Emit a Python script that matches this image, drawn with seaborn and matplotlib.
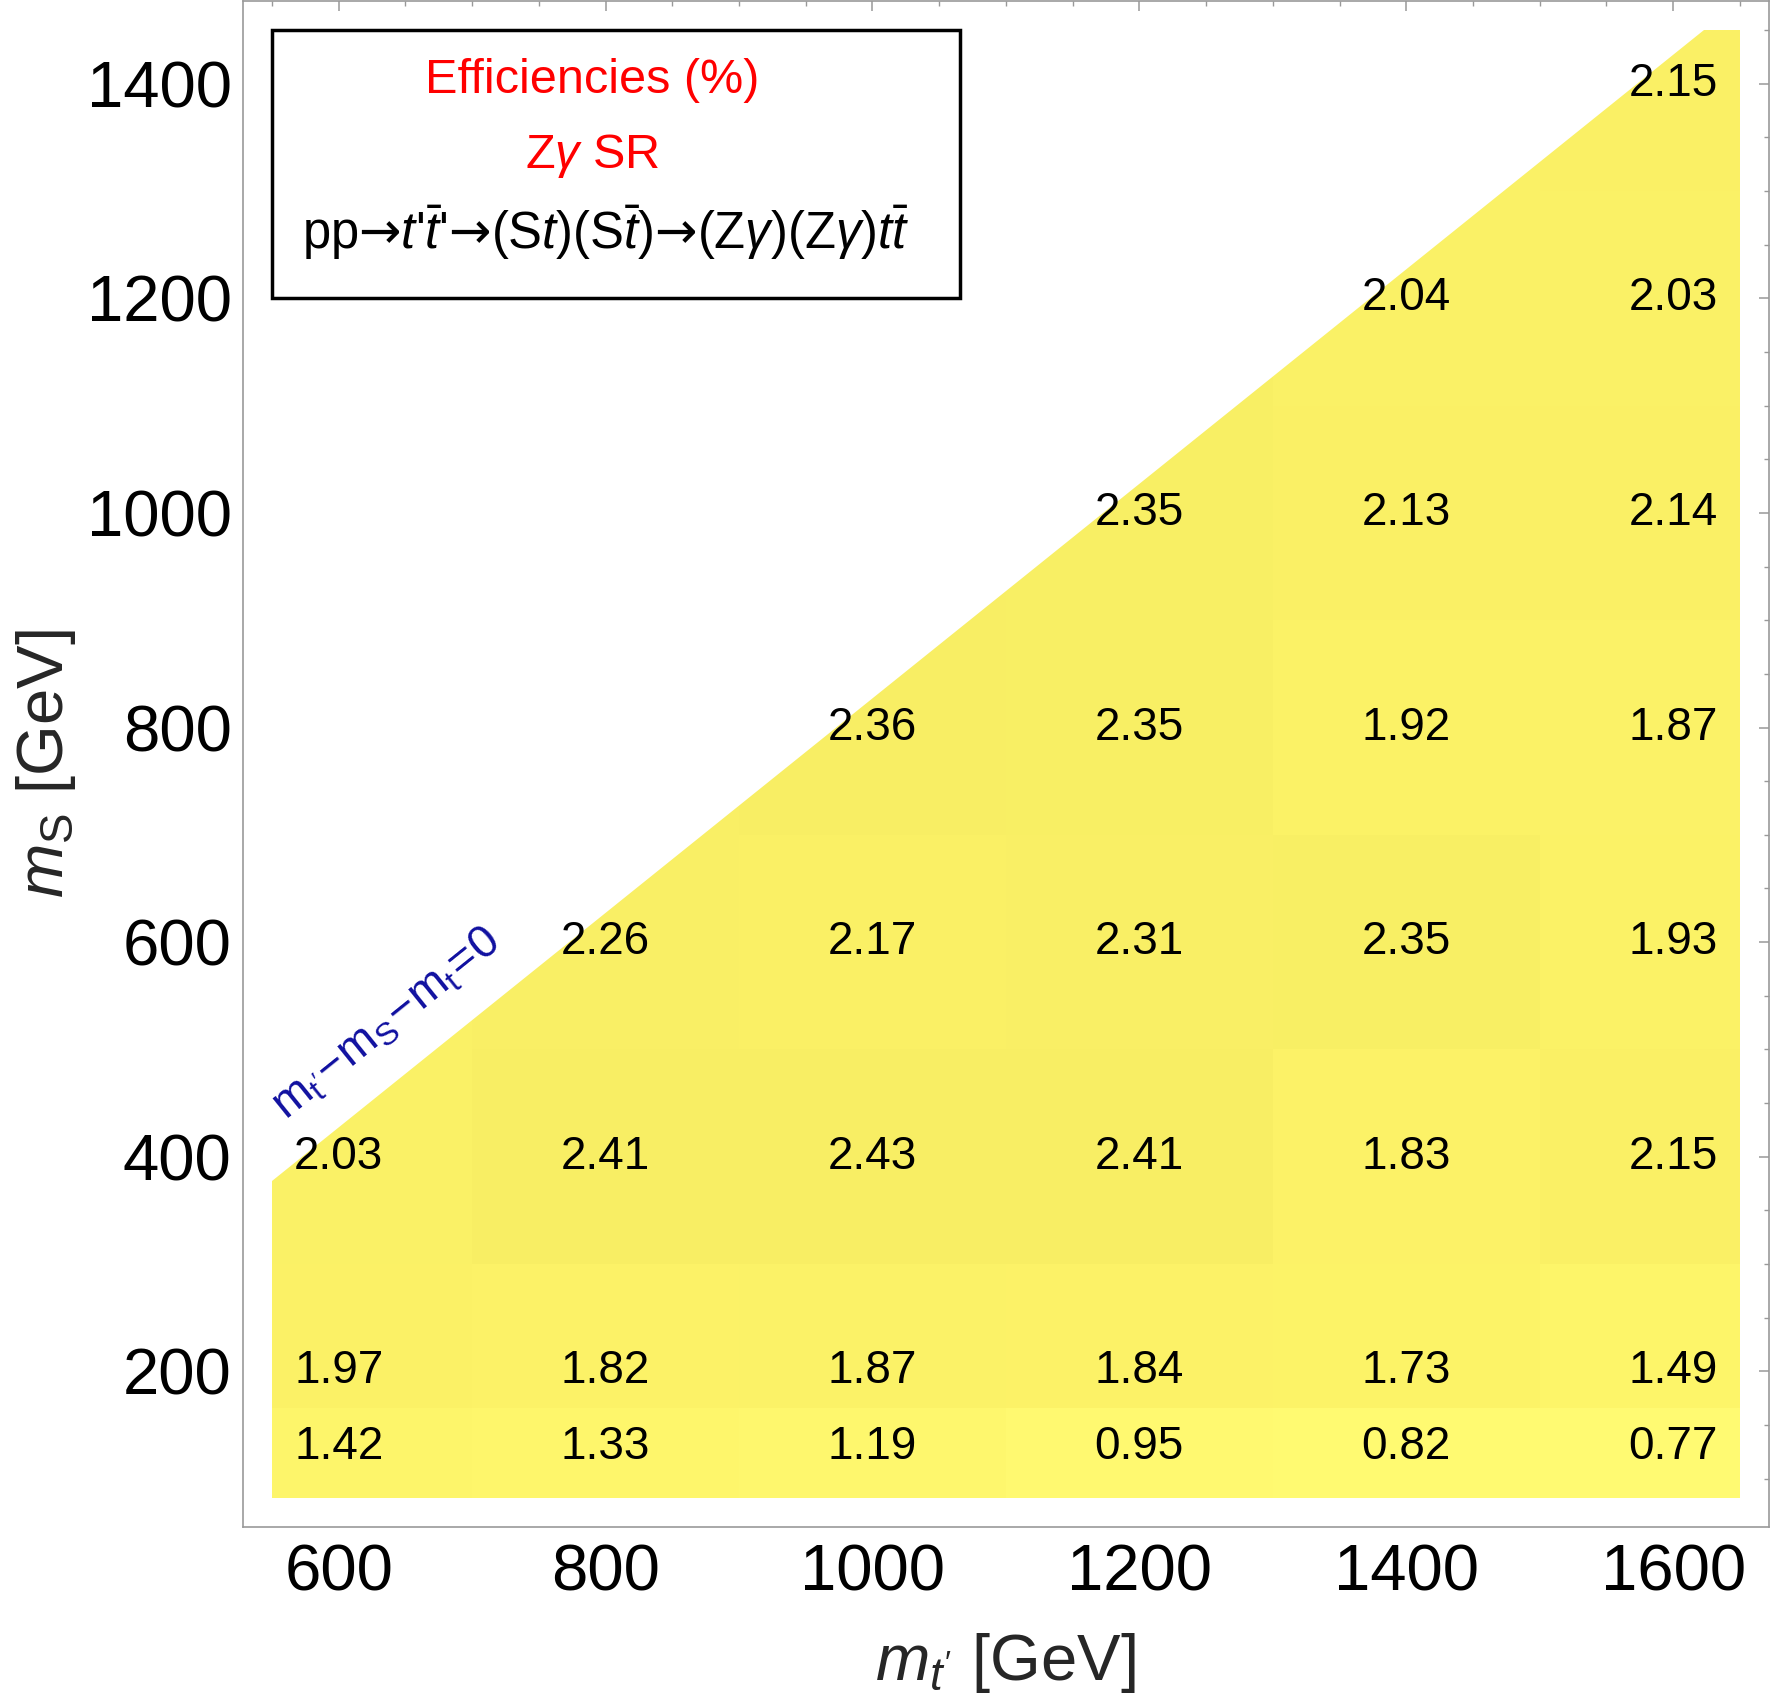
import matplotlib.pyplot as plt
import numpy as np
import pandas as pd
import seaborn as sns
from matplotlib.patches import Polygon, Rectangle
from matplotlib.ticker import MultipleLocator

# efficiencies (%) in the Z-gamma signal region, one list per m_S row
m_tprime = [600, 800, 1000, 1200, 1400, 1600]
m_s = [130, 200, 400, 600, 800, 1000, 1200, 1400]
eff_130 = [1.42, 1.33, 1.19, 0.95, 0.82, 0.77]
eff_200 = [1.97, 1.82, 1.87, 1.84, 1.73, 1.49]
eff_400 = [2.03, 2.41, 2.43, 2.41, 1.83, 2.15]
eff_600 = [np.nan, 2.26, 2.17, 2.31, 2.35, 1.93]
eff_800 = [np.nan, np.nan, 2.36, 2.35, 1.92, 1.87]
eff_1000 = [np.nan, np.nan, np.nan, 2.35, 2.13, 2.14]
eff_1200 = [np.nan, np.nan, np.nan, np.nan, 2.04, 2.03]
eff_1400 = [np.nan, np.nan, np.nan, np.nan, np.nan, 2.15]

m_top = 173

# cell edges of the piecewise-constant density plot
x_edges = [550, 700, 900, 1100, 1300, 1500, 1650]
y_edges = [82, 166, 300, 500, 700, 900, 1100, 1300, 1450]

grid = pd.DataFrame(
    [eff_130, eff_200, eff_400, eff_600, eff_800, eff_1000, eff_1200, eff_1400],
    index=m_s, columns=m_tprime,
)
fill = grid.ffill(axis=0)

sns.set_theme(style="white")
plt.rcParams["font.family"] = ["Liberation Sans", "DejaVu Sans"]
plt.rcParams["mathtext.fontset"] = "custom"
plt.rcParams["mathtext.rm"] = "Liberation Sans"
plt.rcParams["mathtext.it"] = "Liberation Sans:italic"
plt.rcParams["mathtext.bf"] = "Liberation Sans:bold"
plt.rcParams["mathtext.sf"] = "DejaVu Sans"
plt.rcParams["mathtext.fallback"] = "stixsans"

cmap = sns.blend_palette(["#fffa72", "#fdf468", "#f8ee64"], as_cmap=True)

fig = plt.figure(figsize=(17.71, 16.98), dpi=100)
ax = fig.add_axes([0.137, 0.1007, 0.862, 0.8987])

mesh = ax.pcolormesh(x_edges, y_edges, fill.values, cmap=cmap,
                     vmin=0.77, vmax=2.43, shading="flat", antialiased=False)
region = Polygon([(550, 82), (1650, 82), (1650, 1450),
                  (1450 + m_top, 1450), (550, 550 - m_top)],
                 closed=True, transform=ax.transData)
mesh.set_clip_path(region)

for ms in m_s:
    for mt in m_tprime:
        v = grid.loc[ms, mt]
        if not np.isnan(v):
            ax.text(mt, ms, f"{v:.2f}", ha="center", va="center",
                    fontsize=33, color="black", zorder=4)

ax.text(636, 524, r"$\mathregular{m_{t'}\!-\!m_S\!-\!m_t\!=\!0}$",
        color="#1010a0", fontsize=33, ha="center", va="center",
        rotation=45, transform_rotates_text=True, rotation_mode="anchor")

ax.add_patch(Rectangle((0.019, 0.8054), 0.4506, 0.1753, transform=ax.transAxes,
                       facecolor="white", edgecolor="black", lw=2.5, zorder=5))
ax.text(0.2292, 0.9478, "Efficiencies (%)", color="red", fontsize=35,
        ha="center", va="center", transform=ax.transAxes, zorder=6)
ax.text(0.2292, 0.8985, r"Z$\gamma$ SR", color="red", fontsize=35,
        ha="center", va="center", transform=ax.transAxes, zorder=6)
ax.text(0.2377, 0.848,
        r"pp$\mathsf{→}$$t$'$\bar{t}$'$\mathsf{→}$(S$t$)(S$\bar{t}$)"
        r"$\mathsf{→}$(Z$\gamma$)(Z$\gamma$)$t\bar{t}$",
        color="black", fontsize=36.5, ha="center", va="center",
        transform=ax.transAxes, zorder=6)

ax.set_xlim(528, 1672)
ax.set_ylim(55, 1477)
ax.xaxis.set_major_locator(MultipleLocator(200))
ax.xaxis.set_minor_locator(MultipleLocator(50))
ax.yaxis.set_major_locator(MultipleLocator(200))
ax.yaxis.set_minor_locator(MultipleLocator(50))
ax.tick_params(which="both", direction="in", top=True, right=True,
               color="#999999", labelsize=47, labelcolor="black")
ax.tick_params(which="major", length=7, width=1.1)
ax.tick_params(which="minor", length=3.5, width=1.0)
ax.tick_params(axis="x", pad=12)
ax.tick_params(axis="y", pad=8)
for spine in ax.spines.values():
    spine.set_color("#999999")
    spine.set_linewidth(1.2)

ax.set_xlabel(r"$m_{t'}$ [GeV]", fontsize=47)
ax.set_ylabel(r"$m_\mathrm{S}$ [GeV]", fontsize=47)
ax.xaxis.set_label_coords(0.5, -0.068)
ax.yaxis.set_label_coords(-0.108, 0.5)

plt.savefig("out.png", dpi=100)
plt.close()
